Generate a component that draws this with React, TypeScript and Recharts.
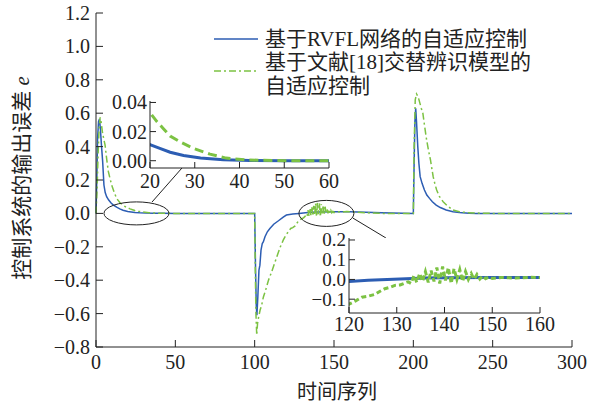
import React from 'react';
import { LineChart, Line, XAxis, YAxis, ReferenceDot, ReferenceLine, CartesianGrid } from 'recharts';

// ---------- data ----------
const rvflTime = [0, 0.5, 1, 1.6, 2.2, 2.8, 3.5, 4.2, 5, 5.8, 6.7, 8, 9.5, 11, 13, 15, 17, 20, 22.2, 24.5, 27.5, 31.3, 36.4, 42.3, 50,
  100, 100.5, 101, 101.4, 102, 102.7, 103.3, 104, 104.8, 105.5, 106.5, 108, 109.6, 112, 115, 118, 120, 124, 128, 132, 136, 140, 150, 160, 180,
  200, 200.5, 201, 201.5, 202, 202.8, 203.5, 204.3, 205.5, 207, 208.5, 210.2, 212, 214.4, 217, 220.7, 225, 229, 235, 240, 300];
const rvflError = [0, 0.2, 0.45, 0.55, 0.565, 0.5, 0.4, 0.31, 0.17, 0.125, 0.1, 0.08, 0.062, 0.05, 0.037, 0.027, 0.019, 0.011, 0.0085, 0.0058, 0.0036, 0.0018, 0.0007, 0.0002, 0,
  0, -0.3, -0.55, -0.61, -0.5, -0.34, -0.31, -0.22, -0.18, -0.17, -0.14, -0.11, -0.09, -0.065, -0.044, -0.022, -0.01, -0.004, 0, 0.004, 0.007, 0.009, 0.01, 0.01, 0.004,
  0, 0.3, 0.55, 0.63, 0.55, 0.4, 0.3, 0.22, 0.18, 0.14, 0.11, 0.09, 0.07, 0.05, 0.035, 0.02, 0.01, 0.005, 0.001, 0, 0];

const refTime = [0, 0.7, 1.3, 2, 2.6, 3.2, 4, 5, 5.7, 6.8, 7.8, 8.8, 9.9, 11.5, 13, 15, 17.2, 20, 21.5, 23, 24.5, 26.7, 29.7, 33.4, 37, 42, 50,
  100, 100.4, 100.8, 101.3, 101.8, 102.5, 103.4, 104.4, 105.5, 106.9, 108.7, 110.7, 112.5, 114.3, 116.2, 118, 120, 121.3, 122.7, 124, 125.5, 126.5, 127.5, 128.6, 129.6, 130.7, 131.7, 132.4,
  133.0, 133.6, 134.2, 134.8, 135.4, 136.0, 136.6, 137.2, 137.8, 138.4, 139.0, 139.6, 140.2, 140.8, 141.4, 142.0, 142.6, 143.2, 143.8, 144.4, 145.0, 145.6, 146.2, 146.8, 147.4, 148.0, 148.6, 149.3,
  150, 152, 155, 158, 160, 170, 180,
  200, 200.5, 201.2, 202, 203, 204, 205, 206, 207, 208.2, 209.5, 210.8, 212.5, 213.5, 214.7, 216.5, 218.8, 221.5, 225, 229, 233.5, 240, 250, 300];
const refError = [0, 0.15, 0.35, 0.52, 0.575, 0.55, 0.49, 0.44, 0.41, 0.32, 0.25, 0.21, 0.17, 0.125, 0.09, 0.065, 0.047, 0.033, 0.027, 0.022, 0.017, 0.013, 0.0085, 0.0045, 0.0018, 0.0005, 0,
  0, -0.35, -0.6, -0.73, -0.66, -0.62, -0.58, -0.55, -0.5, -0.46, -0.4, -0.35, -0.3, -0.25, -0.2, -0.16, -0.125, -0.11, -0.09, -0.085, -0.075, -0.06, -0.047, -0.04, -0.03, -0.028, -0.018, -0.012,
  -0.02, 0.02, -0.015, 0.03, -0.01, 0.04, -0.015, 0.045, -0.01, 0.06, -0.02, 0.065, -0.005, 0.06, -0.02, 0.055, 0.0, 0.05, -0.01, 0.04, 0.0, 0.03, 0.0, 0.025, 0.002, 0.018, 0.004, 0.012,
  0.005, 0.01, 0.007, 0.011, 0.01, 0.004, 0,
  0, 0.4, 0.68, 0.715, 0.7, 0.665, 0.63, 0.6, 0.53, 0.45, 0.38, 0.32, 0.22, 0.18, 0.14, 0.1, 0.07, 0.045, 0.02, 0.01, 0.005, 0.002, 0, 0];

const mainXTicks = [0, 50, 100, 150, 200, 250, 300];
const mainYTicks = [-0.8, -0.6, -0.4, -0.2, 0, 0.2, 0.4, 0.6, 0.8, 1.0, 1.2];
const inset1XTicks = [20, 30, 40, 50, 60];
const inset1YTicks = [0, 0.02, 0.04];
const inset2XTicks = [120, 130, 140, 150, 160];
const inset2YTicks = [-0.1, 0, 0.1, 0.2];
const legendLabels = ['基于RVFL网络的自适应控制', '基于文献[18]交替辨识模型的', '自适应控制'];
const xAxisTitle = '时间序列';
const yAxisTitle = '控制系统的输出误差 ';

const rvflData = rvflTime.map((t, i) => ({ t, e: rvflError[i] }));
const refData = refTime.map((t, i) => ({ t, e: refError[i] }));

// ---------- styles ----------
const FONT = 'Liberation Serif, Times New Roman, Noto Sans CJK SC, serif';
const AX = '#222';
const BLUE = '#2c5db3';
const GREEN = '#7cc243';

const fmt = (v: number, d: number) => {
  const s = Math.abs(v).toFixed(d);
  return v < -1e-9 ? '\u2212' + s : s;
};

const leftTick = (m: number, len: number, d: number, fs: number) => (p: any) => {
  const ax = p.x + m;
  return (
    <g>
      <line x1={ax} x2={ax + len} y1={p.y} y2={p.y} stroke={AX} strokeWidth={1} />
      <text x={p.x} y={p.y} textAnchor="end" dominantBaseline="central" style={{ fontFamily: FONT }} fontSize={fs} fill={AX}>
        {fmt(p.payload.value, d)}
      </text>
    </g>
  );
};

const bottomTick = (m: number, len: number) => (p: any) => {
  const ay = p.y - m;
  return (
    <g>
      <line x1={p.x} x2={p.x} y1={ay} y2={ay - len} stroke={AX} strokeWidth={1} />
      <text x={p.x} y={p.y} textAnchor="middle" dy="0.78em" style={{ fontFamily: FONT }} fontSize={20} fill={AX}>
        {String(p.payload.value)}
      </text>
    </g>
  );
};

const topTick = (len: number) => (p: any) => (
  <line x1={p.x} x2={p.x} y1={p.y} y2={p.y + len} stroke={AX} strokeWidth={1} />
);

const ellipseShape = (rx: number, ry: number) => (p: any) => (
  <ellipse cx={p.cx} cy={p.cy} rx={rx} ry={ry} fill="none" stroke={AX} strokeWidth={1} />
);

export default function App() {
  return (
    <div style={{ position: 'fixed', left: 0, top: 0, width: 598, height: 405, background: '#fff', fontFamily: FONT }}>
      {/* main chart */}
      <div style={{ position: 'absolute', left: 0, top: 0 }}>
        <LineChart width={598} height={405} margin={{ top: 13, right: 26, left: 0, bottom: 0 }}>
          <XAxis xAxisId="b" dataKey="t" type="number" domain={[0, 300]} ticks={mainXTicks} interval={0}
            tickSize={0} tickMargin={6} height={58} axisLine={{ stroke: AX }} tickLine={false} tick={bottomTick(6, 7)} />
          <XAxis xAxisId="t" dataKey="t" orientation="top" type="number" domain={[0, 300]} ticks={mainXTicks} interval={0}
            tickSize={0} tickMargin={0} height={0} axisLine={{ stroke: AX }} tickLine={false} tick={topTick(7)} />
          <YAxis yAxisId="l" type="number" domain={[-0.8, 1.2]} ticks={mainYTicks} interval={0}
            tickSize={0} tickMargin={6} width={96} axisLine={{ stroke: AX }} tickLine={false} tick={leftTick(6, 7, 1, 20)} />
          <YAxis yAxisId="r" orientation="right" type="number" domain={[-0.8, 1.2]} width={0}
            axisLine={{ stroke: AX }} tickLine={false} tick={false} />
          <Line xAxisId="b" yAxisId="l" data={rvflData} dataKey="e" type="linear" stroke={BLUE} strokeWidth={1.5}
            dot={false} activeDot={false} isAnimationActive={false} />
          <Line xAxisId="b" yAxisId="l" data={refData} dataKey="e" type="linear" stroke={GREEN} strokeWidth={1.5}
            strokeDasharray="7 3 2 3" dot={false} activeDot={false} isAnimationActive={false} />
          <ReferenceDot xAxisId="b" yAxisId="l" x={25.5} y={0} r={1} ifOverflow="visible" shape={ellipseShape(32.5, 11.5)} />
          <ReferenceDot xAxisId="b" yAxisId="l" x={145.2} y={0} r={1} ifOverflow="visible" shape={ellipseShape(27.5, 13)} />
          <ReferenceLine xAxisId="b" yAxisId="l" ifOverflow="visible" stroke={AX} strokeWidth={1}
            segment={[{ x: 35.3, y: 0.068 }, { x: 54.2, y: 0.272 }]} />
          <ReferenceLine xAxisId="b" yAxisId="l" ifOverflow="visible" stroke={AX} strokeWidth={1}
            segment={[{ x: 161.9, y: -0.028 }, { x: 182.7, y: -0.147 }]} />
        </LineChart>
      </div>

      {/* inset 1 */}
      <div style={{ position: 'absolute', left: 100, top: 90 }}>
        <LineChart width={250} height={110} margin={{ top: 11, right: 21, left: 0, bottom: 0 }}>
          <CartesianGrid xAxisId="b" yAxisId="l" fill="#fff" stroke="none" horizontal={false} vertical={false} />
          <XAxis xAxisId="b" dataKey="t" type="number" domain={[20, 60]} allowDataOverflow ticks={inset1XTicks} interval={0}
            tickSize={0} tickMargin={4} height={32} axisLine={{ stroke: AX }} tickLine={false} tick={bottomTick(4, 6)} />
          <XAxis xAxisId="t" dataKey="t" orientation="top" type="number" domain={[20, 60]} allowDataOverflow ticks={inset1XTicks} interval={0}
            tickSize={0} tickMargin={0} height={0} axisLine={{ stroke: AX }} tickLine={false} tick={topTick(6)} />
          <YAxis yAxisId="l" type="number" domain={[-0.005, 0.041]} allowDataOverflow ticks={inset1YTicks} interval={0}
            tickSize={0} tickMargin={3} width={50} axisLine={{ stroke: AX }} tickLine={false} tick={leftTick(3, 6, 2, 20)} />
          <YAxis yAxisId="r" orientation="right" type="number" domain={[-0.005, 0.041]} width={0}
            axisLine={{ stroke: AX }} tickLine={false} tick={false} />
          <Line xAxisId="b" yAxisId="l" data={rvflData} dataKey="e" type="linear" stroke={BLUE} strokeWidth={3}
            dot={false} activeDot={false} isAnimationActive={false} />
          <Line xAxisId="b" yAxisId="l" data={refData} dataKey="e" type="linear" stroke={GREEN} strokeWidth={3}
            strokeDasharray="9 5" dot={false} activeDot={false} isAnimationActive={false} />
        </LineChart>
      </div>

      {/* inset 2 */}
      <div style={{ position: 'absolute', left: 300, top: 228 }}>
        <LineChart width={270} height={115} margin={{ top: 10, right: 30, left: 0, bottom: 0 }}>
          <CartesianGrid xAxisId="b" yAxisId="l" fill="#fff" stroke="none" horizontal={false} vertical={false} />
          <XAxis xAxisId="b" dataKey="t" type="number" domain={[120, 160]} allowDataOverflow ticks={inset2XTicks} interval={0}
            tickSize={0} tickMargin={2} height={30} axisLine={{ stroke: AX }} tickLine={false} tick={bottomTick(2, 6)} />
          <XAxis xAxisId="t" dataKey="t" orientation="top" type="number" domain={[120, 160]} allowDataOverflow ticks={inset2XTicks} interval={0}
            tickSize={0} tickMargin={0} height={0} axisLine={{ stroke: AX }} tickLine={false} tick={false} />
          <YAxis yAxisId="l" type="number" domain={[-0.17, 0.21]} allowDataOverflow ticks={inset2YTicks} interval={0}
            tickSize={0} tickMargin={3} width={49} axisLine={{ stroke: AX }} tickLine={false} tick={leftTick(3, 6, 1, 19)} />
          <YAxis yAxisId="r" orientation="right" type="number" domain={[-0.17, 0.21]} width={0}
            axisLine={{ stroke: AX }} tickLine={false} tick={false} />
          <Line xAxisId="b" yAxisId="l" data={rvflData} dataKey="e" type="linear" stroke={BLUE} strokeWidth={3}
            dot={false} activeDot={false} isAnimationActive={false} />
          <Line xAxisId="b" yAxisId="l" data={refData} dataKey="e" type="linear" stroke={GREEN} strokeWidth={3}
            strokeDasharray="5 3" dot={false} activeDot={false} isAnimationActive={false} />
        </LineChart>
      </div>

      {/* legend + axis titles */}
      <svg width={598} height={405} style={{ position: 'absolute', left: 0, top: 0, pointerEvents: 'none', fontFamily: FONT }}>
        <line x1={214} x2={258} y1={39} y2={39} stroke={BLUE} strokeWidth={1.5} />
        <line x1={214} x2={258} y1={71} y2={71} stroke={GREEN} strokeWidth={1.5} strokeDasharray="7 3 2 3" />
        <text x={265} y={39} dominantBaseline="central" fontSize={21} fill={AX}>{legendLabels[0]}</text>
        <text x={265} y={62} dominantBaseline="central" fontSize={21} fill={AX}>{legendLabels[1]}</text>
        <text x={265} y={86} dominantBaseline="central" fontSize={21} fill={AX}>{legendLabels[2]}</text>
        <text x={337} y={392} textAnchor="middle" dominantBaseline="central" fontSize={20} fill={AX}>{xAxisTitle}</text>
        <text transform="translate(22,178) rotate(-90)" textAnchor="middle" dominantBaseline="central" fontSize={21} fill={AX}>
          {yAxisTitle}<tspan fontStyle="italic">e</tspan>
        </text>
      </svg>
    </div>
  );
}
